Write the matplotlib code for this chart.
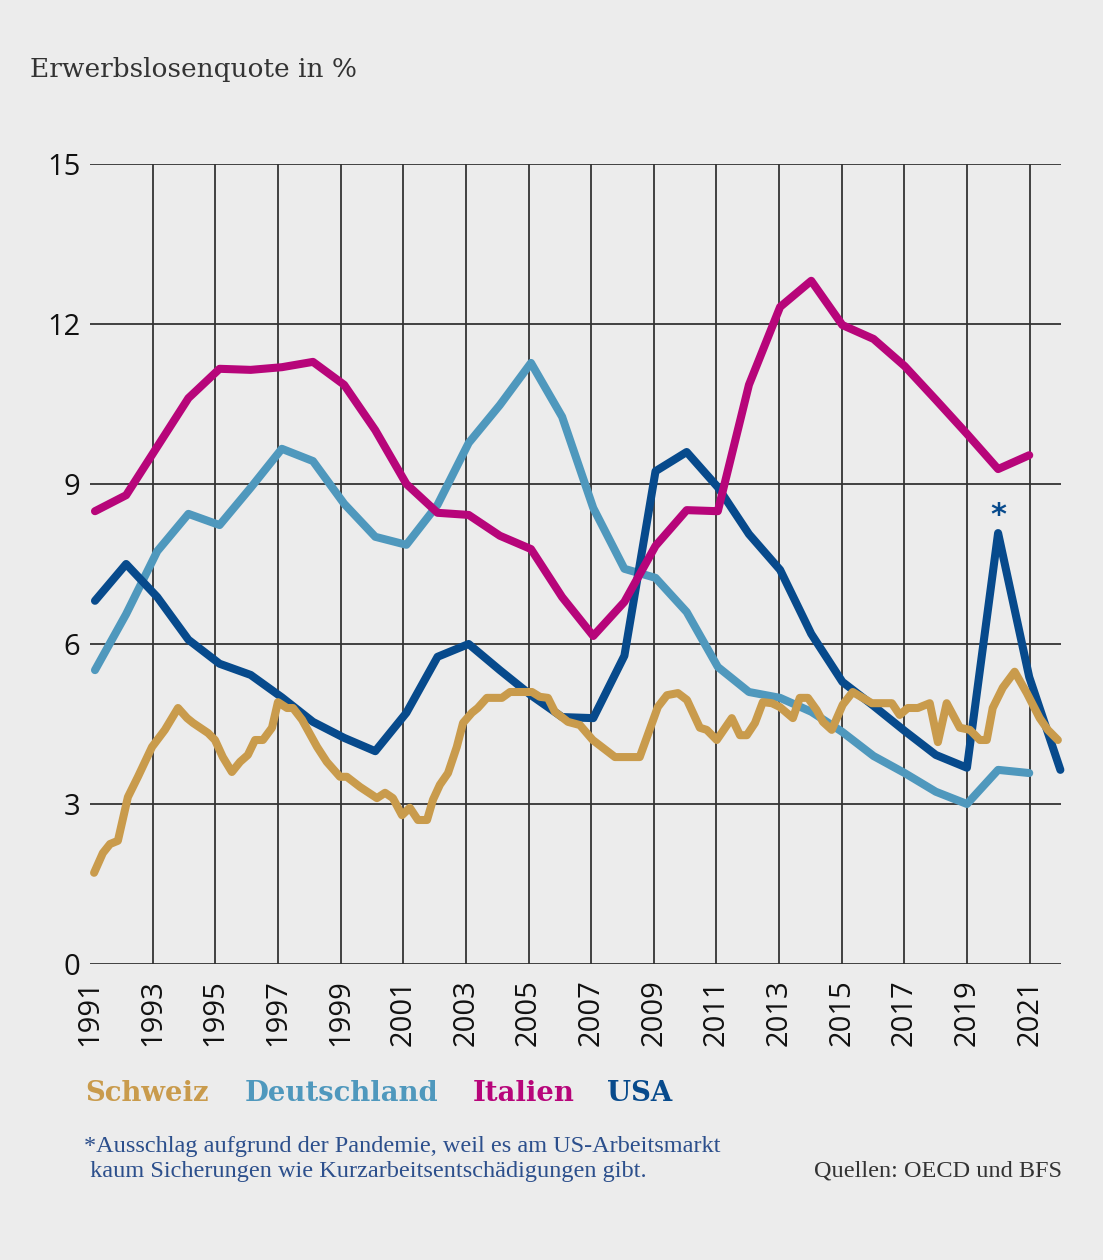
import numpy as np
import matplotlib
matplotlib.use("Agg")
import matplotlib.pyplot as plt

# ---------------------------------------------------------------------------
# data
years = list(range(1991, 2022))
years_usa = list(range(1991, 2023))

italien = [8.49, 8.79, 9.70, 10.61, 11.16, 11.14, 11.19, 11.29, 10.86, 10.01,
           9.00, 8.46, 8.42, 8.03, 7.78, 6.88, 6.15, 6.79, 7.84, 8.51,
           8.49, 10.86, 12.32, 12.81, 11.98, 11.72, 11.21, 10.58, 9.94, 9.28,
           9.54]

deutschland = [5.51, 6.56, 7.74, 8.44, 8.23, 8.93, 9.66, 9.43, 8.63, 8.01,
               7.86, 8.61, 9.77, 10.48, 11.27, 10.26, 8.55, 7.41, 7.24, 6.60,
               5.57, 5.10, 4.99, 4.73, 4.35, 3.90, 3.58, 3.23, 3.00, 3.64,
               3.58]

usa = [6.81, 7.50, 6.88, 6.08, 5.63, 5.42, 5.00, 4.54, 4.24, 3.99,
       4.71, 5.76, 6.00, 5.51, 5.04, 4.63, 4.61, 5.78, 9.24, 9.60,
       8.94, 8.06, 7.39, 6.19, 5.29, 4.84, 4.37, 3.92, 3.68, 8.08,
       5.38, 3.64]

# Schweiz: quarterly-ish values
schweiz_t = [1991.13, 1991.41, 1991.64, 1991.89, 1992.21, 1992.53, 1992.98, 1993.39,
             1993.81, 1994.10, 1994.29, 1994.77, 1994.99, 1995.24, 1995.53, 1995.79,
             1996.04, 1996.27, 1996.52, 1996.81, 1997.00, 1997.29, 1997.48, 1997.77,
             1998.25, 1998.56, 1998.98, 1999.20, 1999.62, 2000.16, 2000.42, 2000.67,
             2000.96, 2001.21, 2001.47, 2001.76, 2001.95, 2002.17, 2002.43, 2002.71,
             2002.91, 2003.19, 2003.38, 2003.67, 2004.15, 2004.41, 2005.11, 2005.36,
             2005.62, 2005.84, 2006.26, 2006.64, 2007.05, 2007.76, 2008.55, 2009.13,
             2009.42, 2009.77, 2010.06, 2010.47, 2010.69, 2011.01, 2011.49, 2011.75,
             2011.97, 2012.23, 2012.48, 2012.77, 2013.02, 2013.44, 2013.66, 2013.92,
             2014.20, 2014.40, 2014.68, 2015.03, 2015.35, 2015.96, 2016.60, 2016.85,
             2017.11, 2017.43, 2017.81, 2018.07, 2018.35, 2018.77, 2019.09, 2019.41,
             2019.63, 2019.82, 2020.14, 2020.52, 2020.91, 2021.32, 2021.58, 2021.90]
schweiz = [1.71, 2.08, 2.25, 2.31, 3.13, 3.51, 4.07, 4.39,
           4.80, 4.61, 4.52, 4.33, 4.20, 3.88, 3.60, 3.79,
           3.92, 4.20, 4.20, 4.43, 4.91, 4.80, 4.80, 4.58,
           4.07, 3.79, 3.51, 3.51, 3.32, 3.11, 3.21, 3.11,
           2.79, 2.93, 2.70, 2.70, 3.08, 3.36, 3.58, 4.07,
           4.52, 4.71, 4.80, 4.99, 4.99, 5.10, 5.10, 5.01,
           4.99, 4.73, 4.54, 4.48, 4.20, 3.88, 3.88, 4.82,
           5.04, 5.08, 4.95, 4.43, 4.39, 4.20, 4.61, 4.29,
           4.29, 4.52, 4.91, 4.89, 4.82, 4.61, 4.99, 4.99,
           4.76, 4.54, 4.39, 4.86, 5.10, 4.89, 4.89, 4.67,
           4.80, 4.80, 4.89, 4.16, 4.89, 4.43, 4.39, 4.20,
           4.20, 4.80, 5.18, 5.48, 5.08, 4.61, 4.39, 4.20]

labels = ["Schweiz", "Deutschland", "Italien", "USA"]
colors = ["#c99b4c", "#4f98bd", "#b7057a", "#074a8c"]

# ---------------------------------------------------------------------------
bg = "#ececec"
fig = plt.figure(figsize=(11.03, 12.6), dpi=100, facecolor=bg)
rect = [90 / 1103, 1 - 964 / 1260, (1061 - 90) / 1103, 800 / 1260]
ax = fig.add_axes(rect)
ax.set_facecolor(bg)
ax.set_xlim(1991, 2022)
ax.set_ylim(0, 15)

# annual series sit on a slightly shifted year scale in the original
ax2 = fig.add_axes(rect, sharey=ax)
ax2.patch.set_visible(False)
ax2.set_xlim(1990.84, 2022.02)
ax2.axis("off")

# grid
for yv in [0, 3, 6, 9, 12, 15]:
    ax.axhline(yv, color="#333333", lw=1.3, zorder=1)
for xv in range(1993, 2022, 2):
    ax.axvline(xv, color="#333333", lw=1.3, zorder=1)

lw = 5.8
kw = dict(lw=lw, solid_capstyle="round", solid_joinstyle="round", zorder=3,
          clip_on=False)
ax2.plot(years, deutschland, color=colors[1], **kw)
ax2.plot(years_usa, usa, color=colors[3], **kw)
ax2.plot(years, italien, color=colors[2], **kw)
ax2.plot(schweiz_t, schweiz, color=colors[0], transform=ax.transData, **kw)

ax2.text(2020, usa[years_usa.index(2020)] + 0.33, "*", color=colors[3],
         fontsize=22, fontweight="bold", ha="center", va="center",
         family="DejaVu Sans")

for s in ax.spines.values():
    s.set_visible(False)

ax.set_yticks([0, 3, 6, 9, 12, 15])
ax.set_yticklabels(["0", "3", "6", "9", "12", "15"], family="Open Sans",
                   fontsize=21, fontweight="medium", color="#111111")
ax.set_xticks(list(range(1991, 2022, 2)))
ax.set_xticklabels([str(y) for y in range(1991, 2022, 2)], rotation=90,
                   family="Open Sans", fontsize=21, fontweight="medium",
                   color="#111111")
ax.tick_params(axis="x", length=0, pad=11)
ax.tick_params(axis="y", length=0, pad=7)

# title
fig.text(30 / 1103, 1 - 77 / 1260, "Erwerbslosenquote in %", family="DejaVu Serif",
         fontsize=19, color="#333333", ha="left", va="baseline")

# legend
leg_x = [85, 245, 473, 607]
for lx, lab, c in zip(leg_x, labels, colors):
    fig.text(lx / 1103, 1 - 1101 / 1260, lab, family="DejaVu Serif",
             fontweight="bold", fontsize=19.8, color=c, ha="left", va="baseline")

# footnote / source
fig.text(84 / 1103, 1 - 1152 / 1260,
         "*Ausschlag aufgrund der Pandemie, weil es am US-Arbeitsmarkt",
         family="Liberation Serif", fontsize=17.5, color="#2c4f8c",
         ha="left", va="baseline")
fig.text(84 / 1103, 1 - 1177 / 1260,
         " kaum Sicherungen wie Kurzarbeitsentschädigungen gibt.",
         family="Liberation Serif", fontsize=17.5, color="#2c4f8c",
         ha="left", va="baseline")
fig.text(1062 / 1103, 1 - 1177 / 1260, "Quellen: OECD und BFS",
         family="Liberation Serif", fontsize=17.5, color="#333333",
         ha="right", va="baseline")

fig.savefig("out.png", dpi=100, facecolor=bg)
